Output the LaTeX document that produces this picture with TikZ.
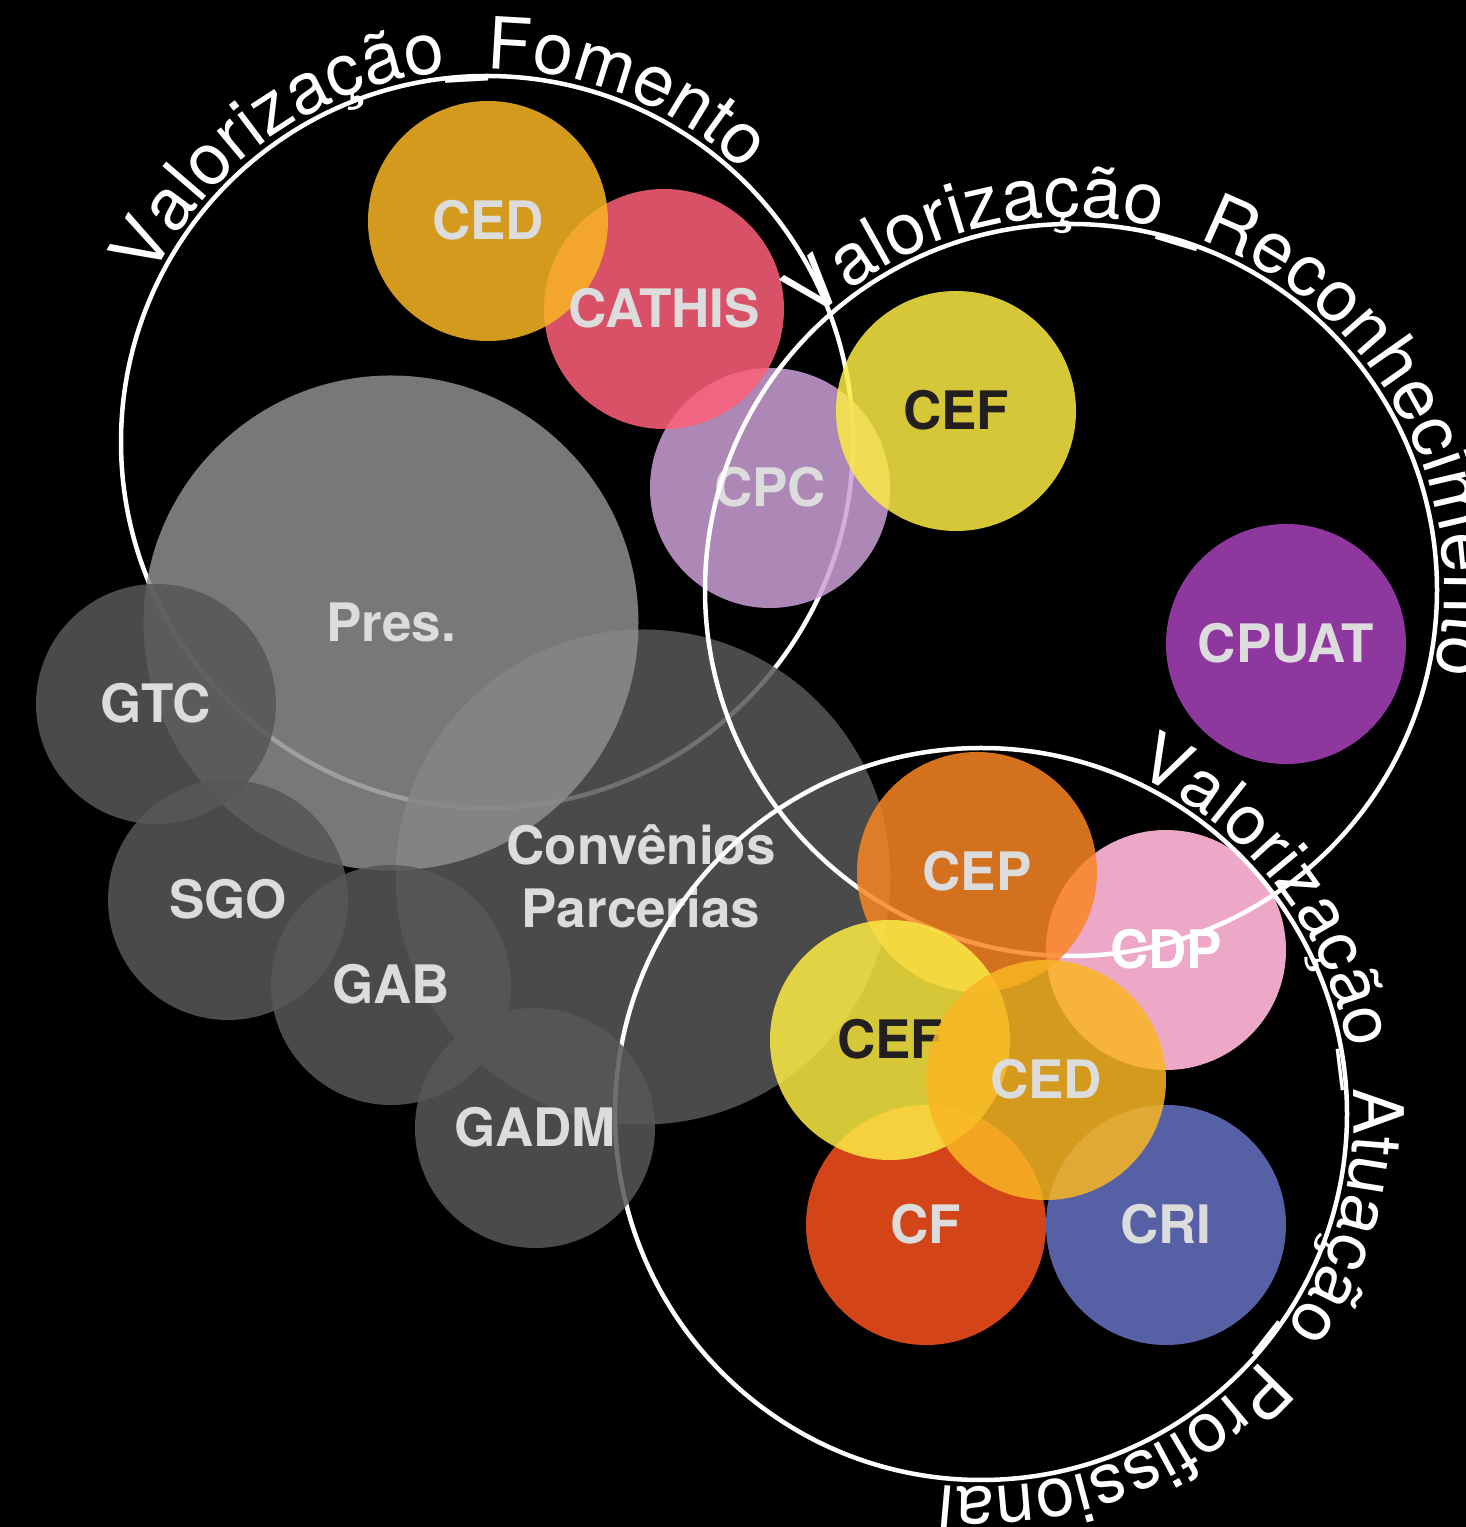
\documentclass[tikz,border=0pt]{standalone}
\usepackage{fontspec}
\setmainfont{TeX Gyre Heros}
\usetikzlibrary{decorations.text}
\definecolor{cCED}{RGB}{249,182,35}
\definecolor{cCATHIS}{RGB}{255,96,120}
\definecolor{cCPC}{RGB}{204,160,215}
\definecolor{cCEF}{RGB}{252,235,68}
\definecolor{cCPUAT}{RGB}{167,65,187}
\definecolor{cPres}{RGB}{141,142,144}
\definecolor{cGray}{RGB}{86,87,86}
\definecolor{cCEP}{RGB}{249,133,36}
\definecolor{cCDP}{RGB}{237,168,200}
\definecolor{cCF}{RGB}{249,80,29}
\definecolor{cCRI}{RGB}{101,113,194}
\definecolor{lblLight}{RGB}{220,220,220}
\definecolor{lblDark}{RGB}{35,31,32}
\newcommand{\arcfont}{\fontsize{72}{72}\selectfont}
\newcommand{\arcfontB}{\fontsize{69.5}{70}\selectfont}
\begin{document}
\begin{tikzpicture}[x=1pt,y=1pt,
  bub/.style={circle, inner sep=0pt, outer sep=0pt, minimum size=240pt, fill opacity=0.85, draw=none},
  bigbub/.style={bub, minimum size=495pt},
  ring/.style={circle, inner sep=0pt, outer sep=0pt, minimum size=732pt, draw=white, line width=4.5pt},
  lbl/.style={anchor=base, text=lblLight, font=\fontsize{53}{63}\selectfont\bfseries, inner sep=0pt},
  dlbl/.style={lbl, text=lblDark},
  wlbl/.style={lbl, text=white}
]
\fill[black] (0,0) rectangle (1466,1527);
\useasboundingbox (0,0) rectangle (1466,1527);

% Fomento ring and its title
\node[ring] (fom) at (487,1085) {};
\path[decorate, decoration={text along path, text align=left, text color=white,
  text={|\arcfont|Valorização{\_}Fomento}}]
  ([shift={(154:373)}]fom.center) arc[start angle=154, end angle=-60, radius=373];

% bubbles
\node[bub, fill=cCPC] (cpc) at (770,1039) {};
\node[bub, fill=cCATHIS] (cathis) at (664,1218) {};
\node[bub, fill=cCED] (ced1) at (488,1306) {};
\node[bub, fill=cCEF] (cef1) at (956,1116) {};
\node[bub, fill=cCPUAT] (cpuat) at (1286,883) {};
\node[bigbub, fill=cGray] (conv) at (643,650) {};
\node[bigbub, fill=cPres] (pres) at (391,904) {};
\node[bub, fill=cGray] (gtc) at (156,823) {};
\node[bub, fill=cGray] (sgo) at (228,627) {};
\node[bub, fill=cGray] (gab) at (391,542) {};
\node[bub, fill=cCDP, fill opacity=1] (cdp) at (1166,577) {};

% labels
\node[lbl] (cpcT) at ([yshift=-19pt]cpc.center) {CPC};
\node[lbl] (cathisT) at ([yshift=-19pt]cathis.center) {CATHIS};
\node[lbl] (ced1T) at ([yshift=-19pt]ced1.center) {CED};
\node[dlbl] (cef1T) at ([yshift=-19pt]cef1.center) {CEF};
\node[lbl] (cpuatT) at ([yshift=-19pt]cpuat.center) {CPUAT};
\node[lbl] (presT) at ([yshift=-19pt]pres.center) {Pres.};
\node[lbl] (convT1) at ([shift={(-2,12)}]conv.center) {Convênios};
\node[lbl] (convT2) at ([shift={(-2,-51)}]conv.center) {Parcerias};
\node[lbl] (gtcT) at ([yshift=-19pt]gtc.center) {GTC};
\node[lbl] (sgoT) at ([yshift=-19pt]sgo.center) {SGO};
\node[lbl] (gabT) at ([yshift=-19pt]gab.center) {GAB};
\node[wlbl] (cdpT) at ([yshift=-19pt]cdp.center) {CDP};

% Reconhecimento ring and title
\node[ring] (rec) at (1071,937) {};
\path[decorate, decoration={text along path, text align=left, text color=white,
  text={|\arcfont|Valorização{\_}Reconhecimento}}]
  ([shift={(134:373)}]rec.center) arc[start angle=134, end angle=-80, radius=373];

% Atuacao ring and title
\node[ring] (atu) at (981,413) {};
\path[decorate, decoration={text along path, text align=left, text color=white,
  text={|\arcfontB|Valorização{\_}Atuação{\_}Profissional}}]
  ([shift={(65.7:373)}]atu.center) arc[start angle=65.7, end angle=-160, radius=373];

% upper layer bubbles with labels
\node[bub, fill=cGray] (gadm) at (535,399) {};
\node[lbl] (gadmT) at ([yshift=-19pt]gadm.center) {GADM};
\node[bub, fill=cCEP] (cep) at (977,655) {};
\node[lbl] (cepT) at ([yshift=-19pt]cep.center) {CEP};
\node[bub, fill=cCF] (cf) at (926,302) {};
\node[lbl] (cfT) at ([yshift=-19pt]cf.center) {CF};
\node[bub, fill=cCRI] (cri) at (1166,302) {};
\node[lbl] (criT) at ([yshift=-19pt]cri.center) {CRI};
\node[bub, fill=cCEF] (cef2) at (890,487) {};
\node[dlbl] (cef2T) at ([yshift=-19pt]cef2.center) {CEF};
\node[bub, fill=cCED] (ced2) at (1046,447) {};
\node[lbl] (ced2T) at ([yshift=-19pt]ced2.center) {CED};
\end{tikzpicture}
\end{document}
